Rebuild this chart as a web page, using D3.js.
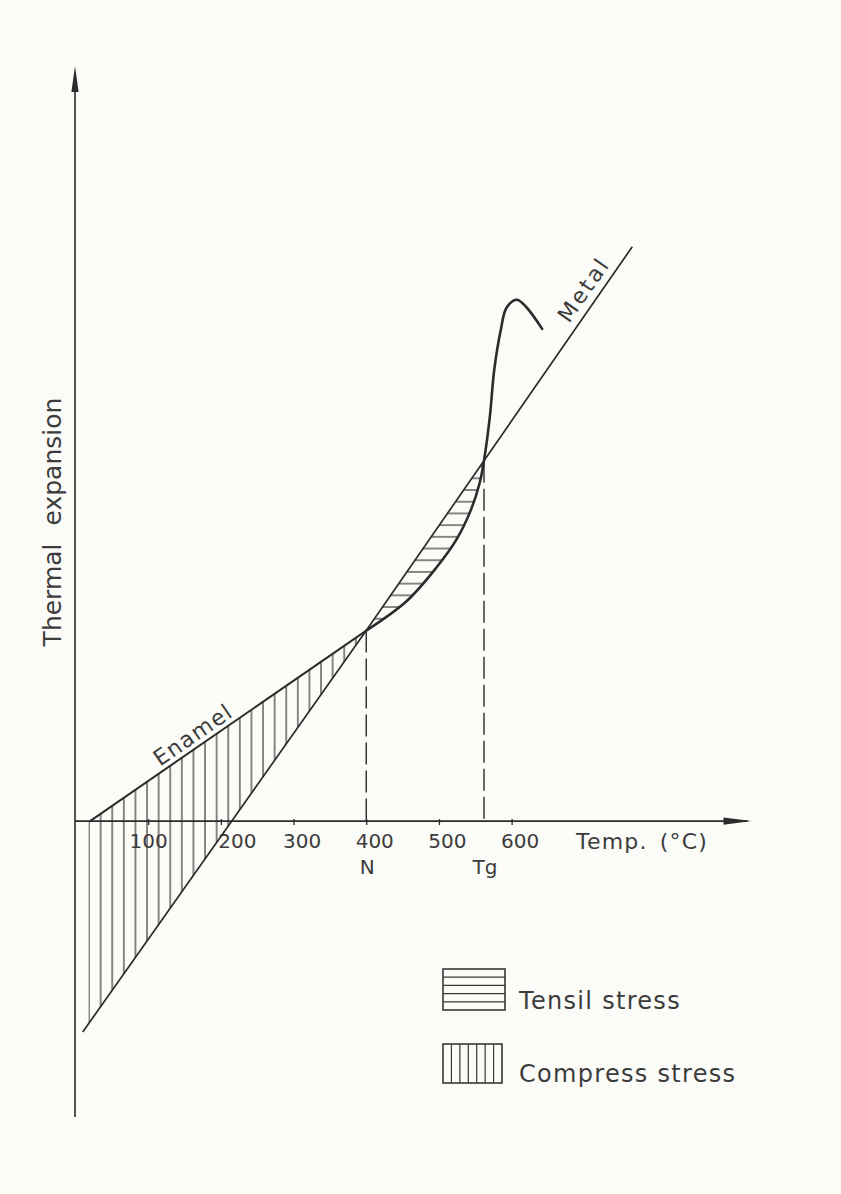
<!DOCTYPE html>
<html>
<head>
<meta charset="utf-8">
<script src="https://cdn.jsdelivr.net/npm/d3@7"></script>
<style>
body {margin: 0; background: #fbfbf8;}
svg {display: block;}
text {font-family: "DejaVu Sans", sans-serif; fill: #3c3c3c;}
</style>
</head>
<body>
<script>
// values: temperature in °C, expansion in arbitrary units
const tempTicks = [100, 200, 300, 400, 500, 600]
const enamelT = [20, 400]
const enamelV = [0, 262]
const metalT = [10, 400, 766]
const metalV = [-290, 262, 790]
const curveT = [400, 455, 496, 524, 544, 556, 562, 570, 576, 585, 593, 607, 620, 642]
const curveV = [262, 302, 348, 387, 428, 465, 496, 556, 620, 675, 706, 717, 707, 677]
const markT = [400, 562]
const markLabels = ["N", "Tg"]
const legendLabels = ["Tensil stress", "Compress stress"]

const width = 841
const height = 1194
const ink = "#2b2b2b"

const svg = d3.select("body").append("svg")
  .attr("width", width)
  .attr("height", height)

svg.append("rect")
  .attr("width", width)
  .attr("height", height)
  .attr("fill", "#fbfbf8")

const xScale = d3.scaleLinear().domain([0, 930]).range([75.5, 751.5])
const yScale = d3.scaleLinear().domain([-407, 1033]).range([1117, 70])
const metalAt = d3.scaleLinear().domain(metalT).range(metalV)

const x0 = xScale(0)
const y0 = yScale(0)

const line = d3.line()
  .x(function(d) { return xScale(d[0]) })
  .y(function(d) { return yScale(d[1]) })

const smooth = d3.line()
  .x(function(d) { return xScale(d[0]) })
  .y(function(d) { return yScale(d[1]) })
  .curve(d3.curveCatmullRom.alpha(0.5))

const enamel = d3.zip(enamelT, enamelV)
const metal = d3.zip(metalT, metalV)
const curve = d3.zip(curveT, curveV)
const tg = markT[1]

// hatch patterns
const defs = svg.append("defs")
const vStep = 11.6
const hStep = 11.7

defs.append("pattern")
  .attr("id", "vhatch")
  .attr("patternUnits", "userSpaceOnUse")
  .attr("x", xScale(enamelT[0]) - 1 - vStep / 2)
  .attr("y", 0)
  .attr("width", vStep)
  .attr("height", 20)
  .append("line")
  .attr("x1", vStep / 2).attr("x2", vStep / 2)
  .attr("y1", 0).attr("y2", 20)
  .attr("stroke", "#383838")
  .attr("stroke-width", 1.2)

defs.append("pattern")
  .attr("id", "hhatch")
  .attr("patternUnits", "userSpaceOnUse")
  .attr("x", 0)
  .attr("y", yScale(enamelV[1]) - 6)
  .attr("width", 20)
  .attr("height", hStep)
  .append("line")
  .attr("x1", 0).attr("x2", 20)
  .attr("y1", hStep / 2).attr("y2", hStep / 2)
  .attr("stroke", "#383838")
  .attr("stroke-width", 1.2)

// compress stress region: between enamel line and metal line below N
const leftT = enamelT[0] - 2
const compress = [[leftT, 0]].concat(enamel).concat([[leftT, metalAt(leftT)]])
svg.append("path")
  .attr("d", line(compress) + "Z")
  .attr("fill", "url(#vhatch)")

// tensil stress region: between metal line and enamel curve from N to Tg
const lower = curve.filter(function(d) { return d[0] <= tg }).reverse()
const tensil = "M" + xScale(markT[0]) + "," + yScale(metalAt(markT[0])) +
  "L" + xScale(tg) + "," + yScale(metalAt(tg)) +
  smooth(lower).replace(/^M/, "L") + "Z"
svg.append("path")
  .attr("d", tensil)
  .attr("fill", "url(#hhatch)")

// dashed markers N and Tg
svg.selectAll(".mark")
  .data(markT)
  .enter().append("line")
  .attr("class", "mark")
  .attr("x1", function(d) { return xScale(d) })
  .attr("x2", function(d) { return xScale(d) })
  .attr("y1", function(d) { return yScale(metalAt(d)) })
  .attr("y2", y0)
  .attr("stroke", ink)
  .attr("stroke-width", 1.4)
  .attr("stroke-dasharray", "22,6")

svg.selectAll(".marklabel")
  .data(markT)
  .enter().append("text")
  .attr("class", "marklabel")
  .attr("x", function(d) { return xScale(d) + 1 })
  .attr("y", y0 + 53)
  .attr("text-anchor", "middle")
  .style("font-size", "20px")
  .text(function(d, i) { return markLabels[i] })

// axes with arrows
svg.append("line")
  .attr("x1", x0 - 0.5).attr("x2", xScale.range()[1] - 4)
  .attr("y1", y0).attr("y2", y0)
  .attr("stroke", ink).attr("stroke-width", 1.6)

svg.append("path")
  .attr("d", "M" + xScale.range()[1] + "," + y0 + "l-28,-3.6l0,7.2Z")
  .attr("fill", ink)

svg.append("line")
  .attr("x1", x0 - 0.5).attr("x2", x0 - 0.5)
  .attr("y1", yScale.range()[0]).attr("y2", yScale.range()[1] + 4)
  .attr("stroke", ink).attr("stroke-width", 1.6)

svg.append("path")
  .attr("d", "M" + (x0 - 0.5) + "," + (yScale.range()[1] - 4) + "l-3.6,26l7.2,0Z")
  .attr("fill", ink)

const nudge = {100: 0, 200: 16}
const xAxis = svg.append("g")
  .attr("transform", "translate(0," + y0 + ")")
  .call(d3.axisBottom(xScale).tickValues(tempTicks).tickSize(4).tickFormat(d3.format("d")))

xAxis.select(".domain").remove()
xAxis.selectAll(".tick line")
  .attr("y1", -2)
  .attr("stroke", ink)
  .attr("stroke-width", 1.3)
xAxis.selectAll(".tick text")
  .attr("x", function(d) { return d in nudge ? nudge[d] : 8 })
  .attr("y", 13)
  .attr("fill", "#3c3c3c")
  .style("font-family", "DejaVu Sans, sans-serif")
  .style("font-size", "20px")

svg.append("text")
  .attr("x", 576)
  .attr("y", y0 + 28)
  .style("font-size", "22px")
  .style("letter-spacing", "1.2px")
  .style("word-spacing", "4px")
  .text("Temp. (°C)")

svg.append("text")
  .attr("transform", "translate(61," + 522 + ") rotate(-90)")
  .attr("text-anchor", "middle")
  .style("font-size", "25px")
  .style("word-spacing", "10px")
  .text("Thermal expansion")

// lines
svg.append("path")
  .attr("d", line(metal))
  .attr("fill", "none")
  .attr("stroke", ink)
  .attr("stroke-width", 1.7)

svg.append("path")
  .attr("d", line(enamel))
  .attr("fill", "none")
  .attr("stroke", ink)
  .attr("stroke-width", 2)

svg.append("path")
  .attr("d", smooth(curve))
  .attr("fill", "none")
  .attr("stroke", ink)
  .attr("stroke-width", 2.6)
  .attr("stroke-linecap", "round")

// labels along lines
function lineLabel(txt, pts, at, offset, spacing) {
  const a = pts[0], b = pts[pts.length - 1]
  const dx = xScale(b[0]) - xScale(a[0])
  const dy = yScale(b[1]) - yScale(a[1])
  const ang = Math.atan2(dy, dx)
  const f = d3.scaleLinear().domain(pts.map(function(d) { return d[0] })).range(pts.map(function(d) { return d[1] }))
  const px = xScale(at) + Math.sin(ang) * offset
  const py = yScale(f(at)) - Math.cos(ang) * offset
  svg.append("text")
    .attr("transform", "translate(" + px + "," + py + ") rotate(" + (ang * 180 / Math.PI) + ")")
    .style("font-size", "22px")
    .style("letter-spacing", spacing + "px")
    .text(txt)
}
lineLabel("Enamel", enamel, 120, 5, 1.4)
lineLabel("Metal", metal, 688, 8, 2.5)

// legend
const legend = svg.append("g")
const boxes = [
  {x: 443, y: 969, w: 62, h: 41, dir: "h"},
  {x: 443, y: 1044, w: 59, h: 39, dir: "v"}
]
boxes.forEach(function(b, i) {
  legend.append("rect")
    .attr("x", b.x).attr("y", b.y)
    .attr("width", b.w).attr("height", b.h)
    .attr("fill", "none")
    .attr("stroke", ink)
    .attr("stroke-width", 1.5)
  const n = b.dir == "h" ? 5 : 7
  d3.range(1, n).forEach(function(k) {
    if (b.dir == "h") {
      legend.append("line")
        .attr("x1", b.x).attr("x2", b.x + b.w)
        .attr("y1", b.y + k * b.h / n).attr("y2", b.y + k * b.h / n)
        .attr("stroke", "#383838").attr("stroke-width", 1.2)
    } else {
      legend.append("line")
        .attr("x1", b.x + k * b.w / n).attr("x2", b.x + k * b.w / n)
        .attr("y1", b.y).attr("y2", b.y + b.h)
        .attr("stroke", "#383838").attr("stroke-width", 1.2)
    }
  })
  legend.append("text")
    .attr("x", 519)
    .attr("y", b.y + b.h - 1)
    .style("font-size", "24px")
    .style("letter-spacing", "1.3px")
    .text(legendLabels[i])
})
</script>
</body>
</html>
